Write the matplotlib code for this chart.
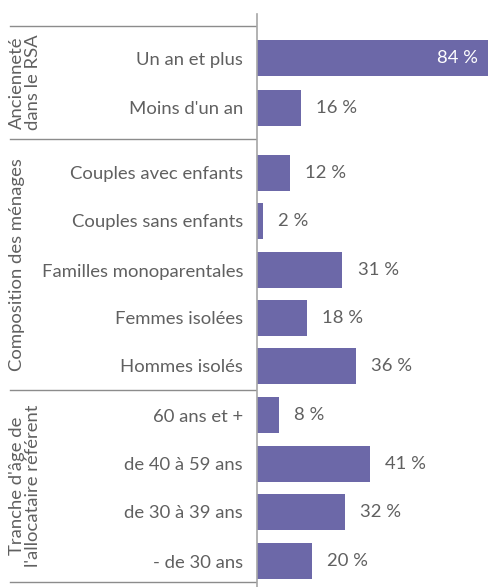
import matplotlib
matplotlib.use("Agg")
import matplotlib.pyplot as plt

# ---- data ----
categories = ["Un an et plus", "Moins d'un an",
              "Couples avec enfants", "Couples sans enfants", "Familles monoparentales",
              "Femmes isolées", "Hommes isolés",
              "60 ans et +", "de 40 à 59 ans", "de 30 à 39 ans", "- de 30 ans"]
values = [84, 16, 12, 2, 31, 18, 36, 8, 41, 32, 20]
groups = ["Ancienneté\ndans le RSA", "Composition des ménages",
          "Tranche d'âge de\nl'allocataire référent"]
group_sizes = [2, 5, 4]

# ---- layout (pixel coordinates of the 488x587 canvas) ----
W, H = 488, 587
row_y = [58, 108, 173, 221, 270, 318, 366, 415, 464, 512, 561]
sep_y = [26, 139, 390, 582]
group_label_x = [25, 17, 25]
axis_x = 257
axis_top = 14
bar_h = 36
fs = 13.3

plt.rcParams['font.family'] = ['Lato', 'DejaVu Sans']
fig = plt.figure(figsize=(W / 100, H / 100), dpi=100)

# background axes in pixel coords for separators and group labels
bg = fig.add_axes([0, 0, 1, 1])
bg.set_xlim(0, W)
bg.set_ylim(H, 0)
bg.axis('off')

ax = fig.add_axes([axis_x / W, 0, (W - axis_x) / W, (H - axis_top) / H])
ax.set_xlim(0, 84)
ax.set_ylim(H, axis_top)

bar_color = "#6C68A8"
text_color = "#606060"
ax.barh(row_y, values, height=bar_h, color=bar_color, zorder=2)

for y, v in zip(row_y, values):
    if v >= 80:
        ax.annotate(f"{v} %", xy=(v, y), xytext=(-7.5, 0), textcoords="offset points",
                    ha="right", va="center", color="white", fontsize=fs)
    else:
        ax.annotate(f"{v} %", xy=(v, y), xytext=(11, 0), textcoords="offset points",
                    ha="left", va="center", color=text_color, fontsize=fs)

ax.set_yticks(row_y)
ax.set_yticklabels(categories, fontsize=fs, color=text_color)
ax.tick_params(axis='y', length=0, pad=10)
ax.set_xticks([])
for s in ["top", "right", "bottom"]:
    ax.spines[s].set_visible(False)
ax.spines["left"].set_color("#A6A6A6")
ax.spines["left"].set_linewidth(1.2)

# separators
for y in sep_y:
    bg.plot([10, axis_x], [y, y], color="#8C8C8C", lw=1.0)

# group labels
for gi, g in enumerate(groups):
    yc = (sep_y[gi] + sep_y[gi + 1]) / 2
    bg.text(group_label_x[gi], yc, g, rotation=90, ha="center", va="center",
            multialignment="center", color=text_color, fontsize=fs, linespacing=0.95)

fig.savefig("out.png", dpi=100)
